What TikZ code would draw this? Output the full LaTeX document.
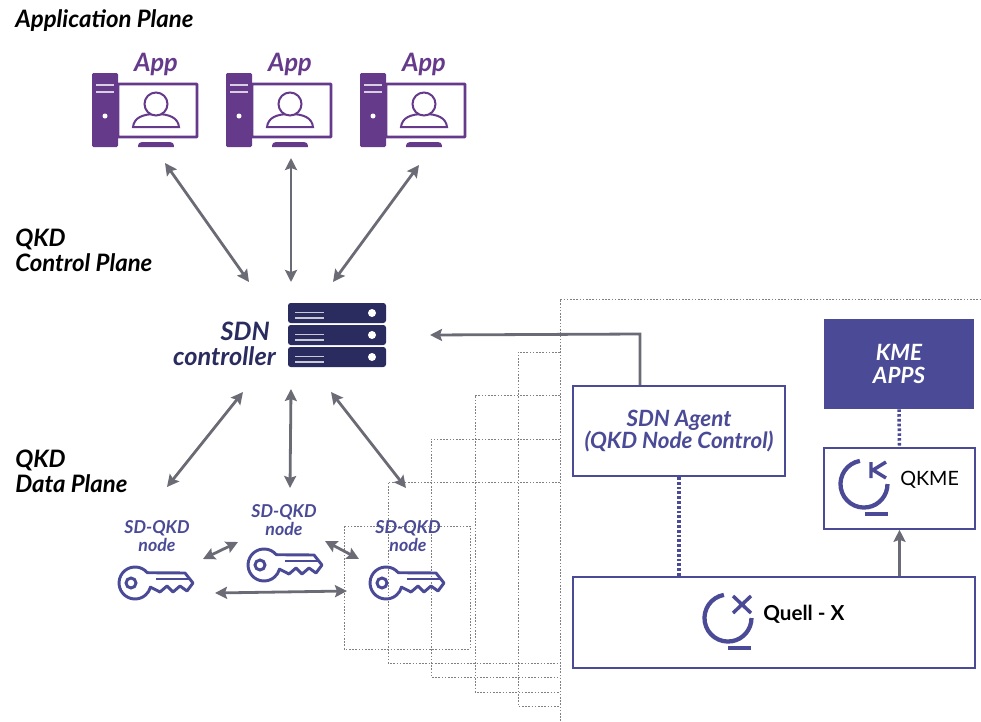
\documentclass[tikz,border=0pt]{standalone}
\usepackage{fontspec}
\setmainfont{Lato}
\usetikzlibrary{arrows.meta}
\definecolor{appcol}{HTML}{663A8A}
\definecolor{keycol}{HTML}{4A4A96}
\definecolor{srvcol}{HTML}{2A2B5E}
\definecolor{arrcol}{HTML}{6B6B76}
\tikzset{
  plane/.style={align=left,anchor=west,inner sep=0pt,font=\fontsize{18}{18.6}\selectfont\bfseries\itshape},
  apptext/.style={text=appcol,font=\fontsize{19}{22}\selectfont\bfseries\itshape},
  keytext/.style={text=keycol,align=center,font=\fontsize{13.3}{13.8}\selectfont\bfseries\itshape},
  boxtext/.style={align=center,font=\fontsize{16.8}{16.8}\selectfont\bfseries\itshape},
  nodebox/.style={draw=keycol,line width=1.6pt,fill=white,inner sep=0pt},
  link/.style={<->,>={Stealth[length=9pt,width=9pt,inset=1.5pt]},draw=arrcol,line width=2.1pt},
  hatch/.style={draw=black!50,line width=.65pt,dash pattern=on 1.2pt off 1.2pt},
  dotlink/.style={draw=keycol,line width=2.6pt,dash pattern=on 2pt off 1.6pt},
  logo/.style={draw=keycol,line width=3.2pt},
  keyicon/.pic={
    \draw[keycol,line width=2.2pt,line join=round]
      (12.3,-10.3) arc (-40:-345:16) -- (25,9) -- (32,3) -- (38,9) -- (45,3)
      -- (52,8) -- (58,0) -- (50,-10) -- cycle;
    \draw[keycol,line width=2.2pt] (-4,0) circle (5);
    \draw[keycol,line width=2.2pt] (21,-4) -- (55,-4);
  }
}
\begin{document}
\begin{tikzpicture}[x=.75pt,y=-.75pt]
  \useasboundingbox (0,0) rectangle (981,721);
  % dotted frames behind the node
  \draw[hatch] (560,721) -- (560,299) -- (981,299);
  \draw[hatch] (560,352) -- (518,352) -- (518,706) -- (560,706);
  \draw[hatch] (560,395) -- (475,395) -- (475,692) -- (560,692);
  \draw[hatch] (560,439) -- (431,439) -- (431,677) -- (560,677);
  \draw[hatch] (560,482) -- (388,482) -- (388,663) -- (560,663);
  \draw[hatch] (344,526) rectangle (470,649);
  % planes
  \draw
    (15,21) node[plane] (appl){Application Plane}
    (15,250) node[plane] (ctrl){QKD\\Control Plane}
    (15,471) node[plane] (data){QKD\\Data Plane};
  % apps
  \foreach \i/\x in {0/0,1/134,2/268} {
    \begin{scope}[shift={(\x,0)}]
      \draw[appcol,line width=2.2pt,rounded corners=.5pt] (118,84) rectangle (197,137);
      \fill[appcol,rounded corners=1pt] (92,73) rectangle (118,147);
      \draw[white!75!appcol,line width=.9pt] (96,85) -- (114,85) (96,92) -- (114,92);
      \fill[white] (105,116) circle (2.5);
      \fill[appcol] (138,147) -- (174,147) .. controls (174,143) and (172,142) .. (170,142)
        -- (142,142) .. controls (140,142) and (138,143) .. (138,147) -- cycle;
      \draw[appcol,line width=1.5pt] (133,127) .. controls (134,118) and (142,114) .. (156,114)
        .. controls (170,114) and (178,118) .. (179,127) -- cycle;
      \draw[appcol,line width=1.5pt,fill=white] (156,104) circle (11.5);
      \node[apptext] (app\i) at (156,64) {App};
    \end{scope}
  }
  % controller
  \foreach \i/\y in {0/303,1/325,2/347} {
    \fill[srvcol,rounded corners=2pt] (288,\y) rectangle (386,\y+20);
    \draw[white!75!srvcol,line width=.9pt] (295,\y+9.5) -- (324,\y+9.5) (295,\y+15) -- (324,\y+15);
    \fill[white] (372,\y+10) circle (4);
  }
  \node[text=srvcol,align=right,anchor=east,inner sep=0pt,font=\fontsize{19}{18.6}\selectfont\bfseries\itshape]
    (sdn) at (276,344) {SDN\kern4.5pt\\controller};
  % keys
  \pic at (135,583) {keyicon};
  \pic at (264,565) {keyicon};
  \pic at (386,583) {keyicon};
  \draw
    (157,536) node[keytext] (node0){SD-QKD\\node}
    (284,520) node[keytext] (node1){SD-QKD\\node}
    (408,536) node[keytext] (node2){SD-QKD\\node};
  % boxes
  \draw
    (679,431) node[nodebox,minimum width=212*.75pt,minimum height=90*.75pt,text=keycol,boxtext] (agent){SDN Agent\\(QKD Node Control)}
    (774,622.5) node[nodebox,minimum width=402*.75pt,minimum height=91*.75pt] (quell){}
    (899.5,488.5) node[nodebox,line width=1.2pt,minimum width=151*.75pt,minimum height=81*.75pt] (qkme){}
    (899,364) node[fill=keycol,text=white,boxtext,minimum width=150*.75pt,minimum height=90*.75pt,inner sep=0pt] (kme){KME\\APPS};
  \node[anchor=west,inner sep=0pt,font=\fontsize{14.8}{15}\selectfont] (qkmetext) at (900,480) {QKME};
  \node[anchor=west,inner sep=0pt,font=\fontsize{15.5}{15}\selectfont\bfseries] (quelltext) at (763,614) {Quell - X};
  % logos
  \draw[logo] (859.9,460.9) arc (-100:-360:23.5);
  \draw[logo,line width=2.6pt] (871,462) -- (871,478) (886,462) -- (873,470) -- (886,478);
  \draw[logo,line width=3pt] (865,514) -- (888,514);
  \draw[logo] (723.9,594.9) arc (-100:-360:23.5);
  \draw[logo,line width=2.6pt] (733,596) -- (751,613) (751,596) -- (733,613);
  \draw[logo,line width=3pt] (728,648) -- (751,648);
  % connectors
  \draw
    (165,163) coordinate (a0) (249,282) coordinate (c0)
    (291,158) coordinate (a1) (291,282) coordinate (c1)
    (419,165) coordinate (a2) (333,282) coordinate (c2)
    (243,392) coordinate (c3) (167,487) coordinate (k0)
    (291,389) coordinate (c4) (290,488) coordinate (k1)
    (331,392) coordinate (c5) (406,488) coordinate (k2)
    (203,559) coordinate (s0) (238,542) coordinate (s1)
    (325,541) coordinate (s2) (359,559) coordinate (s3)
    (215,593) coordinate (s4) (347,591) coordinate (s5)
    (640,334) coordinate (bend) (430,335) coordinate (back);
  \begin{scope}[link]
    \draw (a0) to (c0);
    \draw (a1) to (c1);
    \draw (a2) to (c2);
    \draw (c3) to (k0);
    \draw (c4) to (k1);
    \draw (c5) to (k2);
    \draw (s0) to (s1);
    \draw (s2) to (s3);
    \draw (s4) to (s5);
  \end{scope}
  \draw[link,<-] (back) -- (bend) -- (bend |- agent.north);
  \draw[link,->,line width=2.6pt] (qkme.south |- quell.north) -- (qkme.south);
  \draw[dotlink] (agent.south) -- (agent.south |- quell.north);
  \draw[dotlink] (kme.south) -- (qkme.north);
\end{tikzpicture}
\end{document}
